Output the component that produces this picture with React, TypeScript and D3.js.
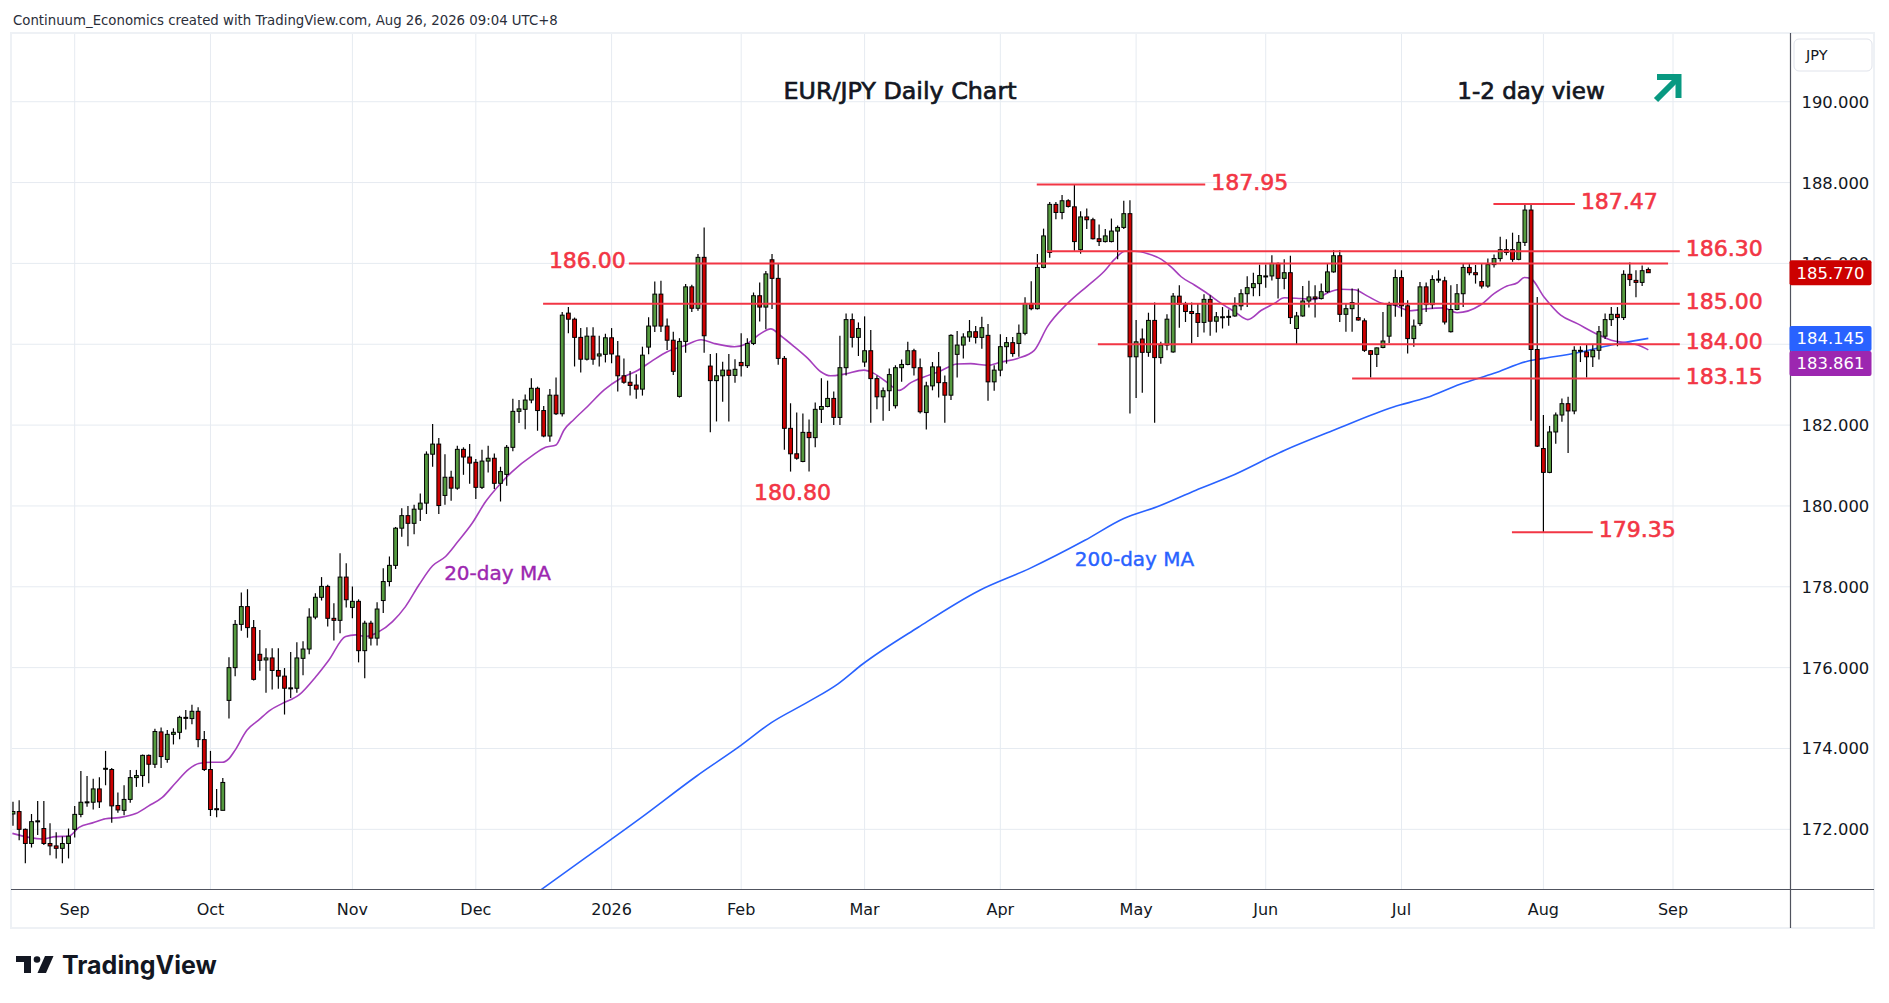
import React from "react";
import * as d3 from "d3";

// ---------- DATA ----------
const START_DATE = "2025-08-18"; // first visible bar
const FIRST_BAR = -10; // bar index of START_DATE (0 = 2025-09-01)
const HOLIDAYS = ["2025-12-25", "2026-01-01"];

const OPEN = [
  172.38, 172.44, 172.0, 171.65, 172.19, 172.02, 171.65, 171.59, 171.53, 171.65,
  172.0, 172.37, 172.67, 172.67, 173.0, 173.49, 173.48, 172.59, 172.47, 172.74,
  173.28, 173.33, 173.83, 173.61, 174.41, 173.73, 174.35, 174.4, 174.77, 174.74,
  174.92, 174.22, 173.48, 172.51, 172.47, 175.19, 176.0, 177.07, 177.51, 176.99,
  176.33, 176.19, 176.24, 175.93, 175.79, 175.49, 175.49, 176.23, 176.46, 177.25,
  177.74, 178.01, 177.22, 177.17, 178.24, 177.49, 177.64, 176.42, 177.1, 176.73,
  177.66, 178.13, 178.53, 179.45, 179.76, 179.57, 179.92, 180.07, 181.28, 181.53,
  180.26, 180.71, 180.44, 181.4, 181.21, 181.08, 180.46, 181.11, 181.18, 180.56,
  180.78, 181.45, 182.34, 182.39, 182.62, 182.91, 182.36, 181.73, 182.74, 182.28,
  184.77, 184.62, 184.17, 183.63, 184.2, 183.71, 183.75, 184.16, 183.71, 183.22,
  183.06, 182.99, 182.89, 183.93, 184.45, 185.24, 184.45, 184.1, 182.71, 184.07,
  185.42, 184.89, 186.15, 183.46, 183.1, 183.22, 183.36, 183.23, 183.55, 183.47,
  184.02, 185.2, 184.92, 186.09, 185.63, 183.65, 181.92, 181.29, 181.1, 181.82,
  181.69, 182.39, 182.46, 182.66, 182.19, 183.42, 184.61, 184.17, 183.56, 183.84,
  183.15, 182.7, 182.85, 182.48, 183.42, 183.5, 183.84, 183.42, 182.31, 182.97,
  183.44, 183.05, 182.74, 183.75, 183.98, 184.18, 184.31, 184.17, 184.22, 183.07,
  183.36, 183.94, 184.04, 184.02, 184.27, 185.01, 184.88, 185.9, 186.27, 187.46,
  187.26, 187.55, 187.4, 186.34, 187.15, 187.08, 186.61, 186.54, 186.54, 186.8,
  186.89, 187.23, 183.69, 184.13, 183.8, 184.59, 183.67, 183.98, 183.81, 185.19,
  184.99, 184.81, 184.76, 184.54, 185.11, 184.57, 184.67, 184.68, 184.7, 184.95,
  185.25, 185.4, 185.5, 185.68, 185.69, 186.0, 185.63, 185.77, 184.39, 184.7,
  185.07, 185.17, 185.13, 185.3, 185.79, 186.19, 184.74, 184.88, 184.66, 184.58,
  183.84, 183.75, 183.92, 184.2, 184.97, 185.65, 184.95, 184.14, 184.51, 185.42,
  184.98, 185.6, 185.57, 184.31, 184.86, 185.25, 185.9, 185.77, 185.55, 185.44,
  185.97, 186.12, 186.34, 186.34, 186.1, 186.52, 187.32, 183.87, 181.42, 180.83,
  181.83, 182.25, 182.53, 182.35, 183.83, 183.81, 183.69, 183.85, 184.2, 184.61,
  184.74, 184.66, 185.73, 185.58, 185.53, 185.85,
];
const HIGH = [
  172.68, 172.72, 172.02, 172.38, 172.7, 172.7, 172.15, 171.93, 171.82, 172.02,
  172.58, 173.44, 173.32, 173.25, 173.29, 173.94, 173.52, 172.91, 173.09, 173.47,
  173.47, 173.85, 173.85, 174.49, 174.52, 174.46, 174.5, 174.81, 174.95, 175.08,
  175.02, 174.43, 173.94, 173.0, 173.27, 176.26, 177.18, 177.86, 177.94, 177.18,
  176.93, 176.48, 176.48, 176.48, 175.99, 176.39, 176.63, 176.65, 177.47, 177.84,
  178.24, 178.05, 177.59, 178.83, 178.58, 178.01, 177.69, 177.16, 177.16, 177.62,
  178.46, 178.75, 179.48, 179.94, 180.0, 180.03, 180.31, 181.35, 182.03, 181.68,
  181.28, 180.87, 181.49, 181.45, 181.53, 181.16, 181.39, 181.49, 181.3, 180.97,
  181.51, 182.65, 182.62, 182.76, 183.16, 182.95, 182.47, 182.89, 183.18, 184.8,
  184.92, 184.66, 184.4, 184.42, 184.42, 184.21, 184.26, 184.4, 184.08, 183.65,
  183.34, 183.26, 183.94, 184.67, 185.55, 185.57, 184.64, 184.31, 184.15, 185.49,
  185.47, 186.23, 186.89, 183.76, 183.78, 183.57, 183.76, 183.63, 184.27, 184.15,
  185.28, 185.53, 185.81, 186.23, 186.0, 183.71, 182.54, 182.31, 182.29, 182.14,
  182.56, 183.16, 183.1, 182.83, 184.21, 184.76, 184.76, 184.54, 184.69, 184.35,
  183.23, 182.93, 183.4, 183.48, 183.62, 184.06, 183.89, 183.65, 183.07, 183.56,
  183.81, 183.23, 184.25, 184.33, 184.27, 184.6, 184.45, 184.68, 184.5, 183.48,
  184.25, 184.18, 184.18, 184.49, 185.16, 185.56, 186.23, 186.86, 187.52, 187.52,
  187.69, 187.59, 187.96, 187.29, 187.36, 187.13, 186.96, 186.85, 187.11, 186.94,
  187.55, 187.56, 184.6, 184.39, 184.78, 185.03, 184.06, 184.74, 185.27, 185.46,
  185.05, 185.03, 185.01, 185.24, 185.21, 184.8, 184.92, 184.86, 185.16, 185.36,
  185.68, 185.77, 185.97, 185.97, 186.2, 186.02, 186.1, 186.19, 184.8, 185.44,
  185.57, 185.46, 185.5, 186.01, 186.33, 186.33, 185.02, 185.38, 185.38, 184.64,
  183.86, 183.92, 184.8, 185.05, 185.85, 185.83, 185.09, 184.61, 185.54, 185.53,
  185.71, 185.83, 185.67, 185.46, 185.49, 186.01, 186.01, 185.96, 186.0, 186.12,
  186.22, 186.66, 186.6, 186.76, 186.7, 187.46, 187.46, 185.17, 182.25, 181.98,
  182.31, 182.66, 182.7, 183.95, 183.95, 183.99, 183.99, 184.45, 184.76, 184.92,
  184.92, 185.83, 186.02, 185.83, 185.95, 185.9,
];
const LOW = [
  172.09, 171.73, 171.16, 171.55, 171.86, 171.61, 171.36, 171.28, 171.16, 171.28,
  171.8, 172.3, 172.56, 172.49, 172.53, 173.09, 172.16, 172.41, 172.35, 172.66,
  173.05, 173.05, 173.14, 173.52, 173.52, 173.65, 174.1, 174.23, 174.47, 174.6,
  174.03, 173.44, 172.33, 172.3, 172.47, 174.74, 175.79, 176.91, 176.74, 175.68,
  175.92, 175.38, 175.46, 175.48, 174.84, 175.25, 175.38, 175.81, 176.33, 177.2,
  177.66, 177.02, 176.67, 176.85, 177.49, 177.22, 176.13, 175.74, 176.55, 176.55,
  177.35, 178.01, 178.44, 179.24, 179.0, 179.3, 179.63, 179.8, 180.97, 179.8,
  180.03, 180.13, 180.4, 180.77, 180.55, 180.17, 180.42, 180.83, 180.42, 180.11,
  180.5, 181.35, 182.05, 181.9, 182.54, 181.86, 181.7, 181.59, 182.25, 182.21,
  184.27, 183.45, 183.3, 183.6, 183.49, 183.45, 183.55, 183.53, 182.83, 183.02,
  182.73, 182.65, 182.73, 183.75, 184.3, 184.3, 183.86, 183.24, 182.68, 183.79,
  184.8, 184.83, 183.79, 181.82, 182.09, 182.58, 182.09, 183.05, 183.2, 183.41,
  183.98, 184.56, 184.37, 184.87, 183.49, 181.39, 180.85, 181.14, 181.08, 180.85,
  181.45, 182.05, 182.44, 182.0, 182.0, 183.23, 183.92, 183.71, 183.44, 182.06,
  182.39, 182.11, 182.35, 182.41, 183.07, 183.48, 183.23, 182.29, 181.89, 182.86,
  182.68, 182.06, 182.62, 183.18, 183.65, 184.06, 184.02, 183.89, 182.6, 182.85,
  183.21, 183.52, 183.69, 183.69, 184.22, 184.84, 184.86, 185.88, 186.14, 187.09,
  187.09, 187.38, 186.31, 186.24, 186.85, 186.59, 186.43, 186.52, 186.52, 186.1,
  186.85, 182.29, 182.67, 182.8, 183.69, 182.06, 183.52, 183.85, 183.79, 184.41,
  184.55, 184.02, 184.18, 184.29, 184.21, 184.29, 184.39, 184.46, 184.68, 184.84,
  184.92, 185.19, 185.19, 185.4, 185.58, 185.13, 185.36, 184.5, 184.0, 184.68,
  184.91, 184.66, 185.11, 185.27, 185.77, 184.55, 184.31, 184.31, 184.58, 183.81,
  183.18, 183.44, 183.9, 184.03, 184.68, 184.68, 183.77, 183.94, 184.45, 184.8,
  184.88, 185.52, 184.49, 184.29, 184.84, 184.92, 185.71, 185.5, 185.38, 185.4,
  185.9, 186.05, 186.2, 186.04, 186.08, 186.43, 182.11, 181.46, 179.35, 180.81,
  181.54, 182.08, 181.31, 182.27, 183.56, 183.18, 183.44, 183.62, 184.13, 184.45,
  183.95, 184.6, 185.44, 185.16, 185.44, 185.76,
];
const CLOSE = [
  172.44, 172.0, 171.65, 172.19, 172.21, 171.65, 171.59, 171.53, 171.65, 171.83,
  172.37, 172.67, 172.68, 173.0, 172.68, 173.51, 172.58, 172.48, 172.74, 173.28,
  173.33, 173.83, 173.61, 174.42, 173.8, 174.35, 174.4, 174.77, 174.75, 174.92,
  174.22, 173.48, 172.49, 172.49, 173.16, 176.0, 177.07, 177.51, 176.99, 175.71,
  176.18, 176.24, 175.93, 175.79, 175.49, 175.5, 176.24, 176.46, 177.25, 177.74,
  178.01, 177.22, 177.17, 178.24, 177.68, 177.64, 176.42, 177.1, 176.73, 177.45,
  178.13, 178.53, 179.45, 179.76, 179.57, 179.92, 180.07, 181.28, 181.53, 180.01,
  180.71, 180.44, 181.4, 181.21, 181.06, 180.46, 181.11, 181.18, 180.56, 180.85,
  181.45, 182.34, 182.4, 182.62, 182.91, 182.36, 181.73, 182.74, 182.28, 184.72,
  184.62, 184.17, 183.63, 184.2, 183.63, 183.76, 184.16, 183.76, 183.22, 183.06,
  182.98, 182.89, 183.73, 184.45, 185.24, 184.45, 184.1, 183.33, 184.07, 185.42,
  184.89, 186.15, 184.21, 183.1, 183.22, 183.36, 183.23, 183.38, 183.47, 184.02,
  185.2, 184.92, 185.74, 185.63, 183.65, 181.92, 181.29, 181.18, 181.82, 181.69,
  182.39, 182.46, 182.66, 182.19, 183.42, 184.61, 184.17, 184.39, 183.84, 183.15,
  182.7, 182.85, 183.25, 183.42, 183.5, 183.84, 183.42, 182.33, 182.97, 183.44,
  183.05, 182.74, 184.22, 183.98, 184.18, 184.31, 184.17, 184.41, 183.07, 183.36,
  183.94, 184.04, 183.77, 184.27, 185.01, 184.88, 185.9, 186.68, 187.46, 187.26,
  187.55, 187.41, 186.54, 187.15, 187.08, 186.61, 186.54, 186.68, 186.8, 186.89,
  187.23, 183.69, 184.06, 183.8, 184.59, 183.67, 183.98, 184.62, 185.19, 184.99,
  184.81, 184.76, 184.54, 185.11, 184.57, 184.68, 184.68, 184.69, 184.95, 185.25,
  185.4, 185.5, 185.7, 185.69, 186.0, 185.63, 185.77, 184.66, 184.7, 185.07,
  185.17, 185.13, 185.3, 185.79, 186.19, 184.74, 184.88, 185.03, 184.6, 183.85,
  183.75, 183.91, 184.08, 184.97, 185.65, 184.95, 184.14, 184.45, 185.42, 184.98,
  185.6, 185.61, 184.55, 184.86, 185.25, 185.9, 185.77, 185.72, 185.44, 185.97,
  186.12, 186.34, 186.27, 186.1, 186.52, 187.32, 183.87, 181.48, 180.83, 181.83,
  182.25, 182.53, 182.35, 183.85, 183.85, 183.69, 183.85, 184.31, 184.61, 184.74,
  184.66, 185.73, 185.6, 185.53, 185.82, 185.77,
];

// [bar index, value]
const MA20: [number, number][] = [
  [-10.1, 171.9], [-5.2, 171.76], [-3.1, 171.82], [-1, 171.83], [0.7, 172.05], [2.9, 172.16],
  [5, 172.26], [7.2, 172.29], [9.9, 172.39], [12, 172.58], [14.2, 172.79], [16.3, 173.14],
  [18.5, 173.49], [20.1, 173.63], [22, 173.66], [23.9, 173.66], [25, 173.75], [26, 173.96],
  [27.9, 174.45], [29.8, 174.7], [31.7, 174.95], [33.6, 175.11], [36.4, 175.33], [39.1, 175.78],
  [41.2, 176.19], [43.9, 176.77], [45.5, 176.81], [47.2, 176.77], [49.3, 176.89], [51.5, 177.14],
  [53.6, 177.51], [55.8, 178.05], [58, 178.52], [60.1, 178.75], [62, 179.1], [64.4, 179.57],
  [66.6, 180.11], [68.8, 180.52], [70.9, 180.85], [74.2, 181.25], [76.3, 181.45], [78, 181.51],
  [79.3, 181.88], [80.9, 182.14], [83.1, 182.46], [85.8, 182.87], [88.5, 183.16], [91.2, 183.35],
  [93.4, 183.57], [96.1, 183.82], [98.8, 183.96], [101.5, 184.11], [103.6, 184.02], [106.9, 183.94],
  [109, 184.02], [111.2, 184.27], [112.8, 184.38], [114.4, 184.21], [116.6, 183.94], [118.8, 183.65],
  [120.9, 183.32], [122.5, 183.22], [124.7, 183.26], [127.9, 183.36], [129.5, 183.28], [131.7, 183.05],
  [133.6, 182.86], [135.5, 183.05], [137.6, 183.19], [140.3, 183.34], [143, 183.51], [145.2, 183.52],
  [147.9, 183.48], [150.1, 183.56], [152.8, 183.65], [155.5, 183.85], [157.6, 184.43], [160.9, 185.01],
  [164.1, 185.44], [166.8, 185.8], [168.5, 186.1], [170.2, 186.3], [171.8, 186.3], [173.9, 186.24],
  [176.1, 186.1], [177.7, 185.91], [179.3, 185.67], [181.5, 185.46], [183.6, 185.25], [185.8, 185.01],
  [188, 184.8], [190.1, 184.61], [192.3, 184.84], [194.4, 185.01], [196, 185.15], [198.7, 185.13],
  [200.9, 185.11], [203, 185.27], [205.2, 185.36], [207.4, 185.35], [209.5, 185.19], [211.7, 185.02],
  [213.8, 184.97], [216.4, 184.83], [219.1, 184.88], [221.8, 184.9], [224, 184.78], [227.8, 184.97],
  [230, 185.25], [232.1, 185.44], [233.8, 185.52], [234.9, 185.65], [235.9, 185.63], [238.1, 185.17],
  [240.8, 184.72], [243.5, 184.51], [246.3, 184.28], [249, 184.1], [251.7, 184.03], [253.3, 183.98],
  [255, 183.861],
];
const MA200: [number, number][] = [
  [73.5, 170.28], [75.6, 170.51], [82.8, 171.3], [91.8, 172.29], [100.8, 173.32], [107.9, 174.07],
  [112.9, 174.64], [118.7, 175.14], [123.7, 175.6], [127.7, 176.09], [136.7, 177.0], [146.6, 177.91],
  [154.7, 178.45], [163.7, 179.15], [170, 179.69], [175.4, 179.98], [181.7, 180.39], [187.1, 180.72],
  [196.1, 181.38], [204.1, 181.88], [213.7, 182.45], [219.1, 182.68], [224.5, 183.01], [230, 183.28],
  [235.4, 183.58], [238.1, 183.65], [243.5, 183.79], [249, 183.98], [255, 184.145],
];

const PRICE_TICKS = [172, 174, 176, 178, 180, 182, 184, 186, 188, 190];
const MONTH_LABELS = ["Sep", "Oct", "Nov", "Dec", "2026", "Feb", "Mar", "Apr", "May", "Jun", "Jul", "Aug", "Sep"];

const LAST_CLOSE = 185.77;
const MA200_LAST = 184.145;
const MA20_LAST = 183.861;

// horizontal levels: price, from bar, to bar, label placement
const LEVELS = [
  { price: 187.95, from: 155.9, to: 183.2, label: "187.95", side: "right" },
  { price: 187.47, from: 229.9, to: 243.1, label: "187.47", side: "right" },
  { price: 186.3, from: 157.5, to: 260.1, label: "186.30", side: "right" },
  { price: 186.0, from: 89.8, to: 258.2, label: "186.00", side: "left" },
  { price: 185.0, from: 75.9, to: 260.1, label: "185.00", side: "right" },
  { price: 184.0, from: 165.8, to: 260.1, label: "184.00", side: "right" },
  { price: 183.15, from: 207.0, to: 260.1, label: "183.15", side: "right" },
  { price: 179.35, from: 232.9, to: 246.0, label: "179.35", side: "right" },
];
const LOW_LABEL = { price: 180.8, bar: 116, label: "180.80" };

const HEADER = "Continuum_Economics created with TradingView.com, Aug 26, 2026 09:04 UTC+8";
const TITLE = "EUR/JPY Daily Chart";
const VIEW = "1-2 day view";

// ---------- HELPERS ----------
function tradingDays(start: string, count: number, holidays: string[]) {
  const out: Date[] = [];
  let d = new Date(start + "T00:00:00Z");
  while (out.length < count) {
    const wd = d.getUTCDay();
    const iso = d.toISOString().slice(0, 10);
    if (wd !== 0 && wd !== 6 && !holidays.includes(iso)) out.push(new Date(d));
    d = new Date(d.getTime() + 86400000);
  }
  return out;
}

const W = 1889;
const H = 1003;
const PLOT = { left: 12, right: 1790, top: 34, bottom: 889 };
const FONT = "'DejaVu Sans', Verdana, sans-serif";
const RED = "#f23645";
const GREEN_C = "#559a3f";
const RED_C = "#cc0000";
const GRID = "#e6ebf1";

export default function App() {
  const x = d3.scaleLinear().domain([0, 259]).range([74.7, 1673]);
  const y = d3.scaleLinear().domain([170.524, 191.675]).range([PLOT.bottom, PLOT.top]);

  const days = tradingDays(START_DATE, 300, HOLIDAYS);
  const monthTicks: { bar: number; label: string }[] = [];
  for (let k = 1; k < days.length; k++) {
    if (days[k].getUTCMonth() !== days[k - 1].getUTCMonth() && monthTicks.length < MONTH_LABELS.length) {
      monthTicks.push({ bar: FIRST_BAR + k, label: MONTH_LABELS[monthTicks.length] });
    }
  }

  const line = d3
    .line<[number, number]>()
    .x((d) => x(d[0]))
    .y((d) => y(d[1]))
    .curve(d3.curveMonotoneX);

  const bodyW = 3.8;

  // price label boxes on the axis
  const bh = 25;
  const yC = y(LAST_CLOSE);
  const yB = y(MA200_LAST);
  let yP = y(MA20_LAST);
  if (yP - yB < bh) yP = yB + bh;
  const boxes = [
    { c: yC, v: LAST_CLOSE, col: "#cc0000" },
    { c: yB, v: MA200_LAST, col: "#2962ff" },
    { c: yP, v: MA20_LAST, col: "#9c27b0" },
  ];
  const boxTops = boxes.map((b) => b.c - bh / 2);
  const coveredTick = (p: number) => boxes.some((b) => Math.abs(y(p) - b.c) < bh / 2 - 1);

  return (
    <>
      <style>{"body{margin:0;background:#fff}"}</style>
      <svg width={W} height={H} style={{ display: "block", background: "#fff" }} fontFamily={FONT}>
        <defs>
          <clipPath id="plot">
            <rect x={PLOT.left} y={PLOT.top} width={PLOT.right - PLOT.left} height={PLOT.bottom - PLOT.top} />
          </clipPath>
          <clipPath id="aboveClose">
            <rect x={1791} y={0} width={90} height={boxTops[0]} />
          </clipPath>
        </defs>

        {/* header */}
        <text x={13} y={24.5} fontSize={13.3} fill="#2a2e39">{HEADER}</text>

        {/* frame */}
        <rect x={11} y={33} width={1863} height={895} fill="none" stroke="#eef1f5" strokeWidth={2} />

        {/* grid */}
        <g clipPath="url(#plot)">
          {PRICE_TICKS.map((p) => (
            <line key={"h" + p} x1={PLOT.left} x2={PLOT.right} y1={y(p)} y2={y(p)} stroke={GRID} strokeWidth={1} />
          ))}
          {monthTicks.map((t) => (
            <line key={"v" + t.bar} x1={x(t.bar)} x2={x(t.bar)} y1={PLOT.top} y2={PLOT.bottom} stroke={GRID} strokeWidth={1} />
          ))}
        </g>

        {/* title texts */}
        <text x={900} y={99} fontSize={23.8} textAnchor="middle" fill="#131722" stroke="#131722" strokeWidth={0.7}>{TITLE}</text>
        <text x={1531} y={99} fontSize={23} textAnchor="middle" fill="#131722" stroke="#131722" strokeWidth={0.7}>{VIEW}</text>
        <g stroke="#089981" strokeWidth={6} fill="none" strokeLinecap="butt" strokeLinejoin="miter">
          <line x1={1656} y1={100} x2={1677} y2={79} />
          <polyline points="1657,77 1678.5,77 1678.5,98" />
        </g>

        {/* candles, MAs */}
        <g clipPath="url(#plot)">
          <path d={line(MA200) || ""} fill="none" stroke="#2962ff" strokeWidth={1.6} />
          <path d={line(MA20) || ""} fill="none" stroke="#a53fbd" strokeWidth={1.6} />
          {OPEN.map((o, k) => {
            const i = FIRST_BAR + k;
            const c = CLOSE[k];
            const xc = x(i);
            const top = y(Math.max(o, c));
            const bot = y(Math.min(o, c));
            const up = c >= o;
            return (
              <g key={k}>
                <line x1={xc} x2={xc} y1={y(HIGH[k])} y2={y(LOW[k])} stroke="#000" strokeWidth={1.2} />
                <rect
                  x={xc - bodyW / 2}
                  y={top}
                  width={bodyW}
                  height={Math.max(bot - top, 1)}
                  fill={up ? GREEN_C : RED_C}
                  stroke="#000"
                  strokeWidth={1}
                />
              </g>
            );
          })}
        </g>

        {/* levels */}
        {LEVELS.map((L) => {
          const yy = y(L.price);
          const x0 = x(L.from);
          const x1 = x(L.to);
          return (
            <g key={L.label}>
              <line x1={x0} x2={x1} y1={yy} y2={yy} stroke={RED} strokeWidth={2} />
              {L.side === "right" ? (
                <text x={x1 + 6} y={yy + 5} fontSize={22} fill={RED} stroke={RED} strokeWidth={0.6}>{L.label}</text>
              ) : (
                <text x={x0 - 3} y={yy + 5} fontSize={22} fill={RED} stroke={RED} strokeWidth={0.6} textAnchor="end">{L.label}</text>
              )}
            </g>
          );
        })}
        <text x={x(LOW_LABEL.bar) + 2} y={y(LOW_LABEL.price) + 26.5} fontSize={22} fill={RED} stroke={RED} strokeWidth={0.6} textAnchor="middle">
          {LOW_LABEL.label}
        </text>

        {/* MA labels */}
        <text x={497.5} y={579.5} fontSize={20} fill="#9c27b0" stroke="#9c27b0" strokeWidth={0.4} textAnchor="middle">20-day MA</text>
        <text x={1134.5} y={565.5} fontSize={20} fill="#2962ff" stroke="#2962ff" strokeWidth={0.4} textAnchor="middle">200-day MA</text>

        {/* axes lines */}
        <line x1={11} x2={1874} y1={PLOT.bottom + 0.5} y2={PLOT.bottom + 0.5} stroke="#50535e" strokeWidth={1.2} />
        <line x1={PLOT.right + 0.5} x2={PLOT.right + 0.5} y1={33} y2={928} stroke="#50535e" strokeWidth={1.2} />

        {/* price axis */}
        <rect x={1794} y={39} width={78} height={32} rx={5} fill="#fff" stroke="#e0e3eb" strokeWidth={1} />
        <text x={1806} y={59.5} fontSize={14.5} fill="#131722">JPY</text>
        {PRICE_TICKS.filter((p) => !coveredTick(p) || Math.abs(y(p) - yC) < bh).map((p) => (
          <text
            key={"t" + p}
            x={1801.5}
            y={y(p) + 6}
            fontSize={16.4}
            fill="#131722"
            clipPath={coveredTick(p) ? "url(#aboveClose)" : undefined}
          >
            {p.toFixed(3)}
          </text>
        ))}
        {boxes.map((b) => (
          <g key={b.col}>
            <rect x={1789.5} y={b.c - bh / 2} width={82} height={bh} rx={2} fill={b.col} />
            <text x={1830.5} y={b.c + 6} fontSize={16.4} fill="#fff" textAnchor="middle">{b.v.toFixed(3)}</text>
          </g>
        ))}

        {/* time axis */}
        {monthTicks.map((t) => (
          <text key={"m" + t.bar} x={x(t.bar)} y={915} fontSize={16} fill="#131722" textAnchor="middle">{t.label}</text>
        ))}

        {/* logo */}
        <g fill="#131722">
          <path d="M16,956 H31 V973 H24 V962 H16 Z" />
          <circle cx={37} cy={959.5} r={3.3} />
          <path d="M45,956 H53.5 L46,973 H37.5 Z" />
        </g>
        <text x={62} y={974} fontSize={25} fontWeight={700} fill="#131722" fontFamily="Inter, sans-serif">TradingView</text>
      </svg>
    </>
  );
}
